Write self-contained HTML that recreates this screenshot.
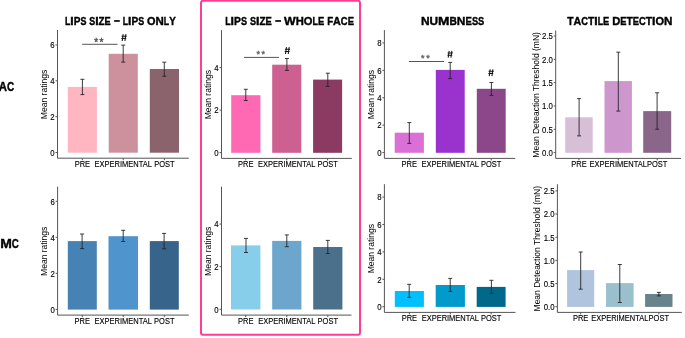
<!DOCTYPE html>
<html><head><meta charset="utf-8"><style>
html,body{margin:0;padding:0;background:#fff;}
body{width:685px;height:338px;overflow:hidden;}
svg{display:block;will-change:transform;}
text{font-family:"Liberation Sans", sans-serif;fill:#1a1a1a;}
.tk{font-size:7.8px;fill:#000;stroke:#000;stroke-width:0.12px;}
.xl{font-size:7.5px;fill:#000;stroke:#000;stroke-width:0.12px;}
.yt{font-size:9.5px;fill:#000;}
.ti{font-weight:bold;fill:#000;stroke:#000;stroke-width:0.4px;}
.st{font-size:10px;fill:#666;letter-spacing:1.2px;stroke-width:0.4px;}
.hs{font-size:9.5px;fill:#111;font-weight:bold;stroke:#111;stroke-width:0.3px;}
</style></head><body>
<svg width="685" height="338" viewBox="0 0 685 338">
<rect x="201" y="0.8" width="159" height="334" rx="2" fill="none" stroke="#FF3D98" stroke-width="2"/>
<rect x="67.8" y="86.9" width="29.10" height="65.80" fill="#FFB6C1"/>
<rect x="108.7" y="53.8" width="29.10" height="98.90" fill="#CD919E"/>
<rect x="149.8" y="69" width="29.20" height="83.70" fill="#8B636C"/>
<path d="M82.4 79.3V94.6M80.4 79.3H84.4M80.4 94.6H84.4" stroke="#262626" stroke-width="0.9" fill="none"/>
<path d="M123.2 45.1V62.1M121.2 45.1H125.2M121.2 62.1H125.2" stroke="#262626" stroke-width="0.9" fill="none"/>
<path d="M164.3 62.2V76.2M162.3 62.2H166.3M162.3 76.2H166.3" stroke="#262626" stroke-width="0.9" fill="none"/>
<path d="M57.5 30V158.2H188.8" stroke="#555555" stroke-width="1" fill="none"/>
<path d="M55.5 152.50H57.5" stroke="#555555" stroke-width="1"/>
<text transform="translate(54.7 155.80) scale(1 1.12)" text-anchor="end" class="tk">0</text>
<path d="M55.5 116.66H57.5" stroke="#555555" stroke-width="1"/>
<text transform="translate(54.7 119.96) scale(1 1.12)" text-anchor="end" class="tk">2</text>
<path d="M55.5 80.82H57.5" stroke="#555555" stroke-width="1"/>
<text transform="translate(54.7 84.12) scale(1 1.12)" text-anchor="end" class="tk">4</text>
<path d="M55.5 44.98H57.5" stroke="#555555" stroke-width="1"/>
<text transform="translate(54.7 48.28) scale(1 1.12)" text-anchor="end" class="tk">6</text>
<path d="M82.35 158.2V160.2" stroke="#555555" stroke-width="1"/>
<text transform="translate(82.35 166.7) scale(1 1.12)" text-anchor="middle" class="xl">PRE</text>
<path d="M123.25 158.2V160.2" stroke="#555555" stroke-width="1"/>
<text transform="translate(123.25 166.7) scale(1 1.12)" text-anchor="middle" class="xl">EXPERIMENTAL</text>
<path d="M164.40 158.2V160.2" stroke="#555555" stroke-width="1"/>
<text transform="translate(164.40 166.7) scale(1 1.12)" text-anchor="middle" class="xl">POST</text>
<text transform="translate(47.3 94.5) rotate(-90) scale(0.9 1)" text-anchor="middle" class="yt" style="font-size:9.5px">Mean ratings</text>
<rect x="231.2" y="95.2" width="29.20" height="57.60" fill="#FF69B4"/>
<rect x="272.2" y="64.7" width="29.10" height="88.10" fill="#CD6090"/>
<rect x="313.1" y="79.6" width="29.00" height="73.20" fill="#8B3A62"/>
<path d="M245.8 89.3V100.5M243.8 89.3H247.8M243.8 100.5H247.8" stroke="#262626" stroke-width="0.9" fill="none"/>
<path d="M286.9 58.5V70.4M284.9 58.5H288.9M284.9 70.4H288.9" stroke="#262626" stroke-width="0.9" fill="none"/>
<path d="M327.8 73.2V86.4M325.8 73.2H329.8M325.8 86.4H329.8" stroke="#262626" stroke-width="0.9" fill="none"/>
<path d="M221.5 30.1V158.4H351.8" stroke="#555555" stroke-width="1" fill="none"/>
<path d="M219.5 152.60H221.5" stroke="#555555" stroke-width="1"/>
<text transform="translate(218.7 155.90) scale(1 1.12)" text-anchor="end" class="tk">0</text>
<path d="M219.5 110.10H221.5" stroke="#555555" stroke-width="1"/>
<text transform="translate(218.7 113.40) scale(1 1.12)" text-anchor="end" class="tk">2</text>
<path d="M219.5 67.60H221.5" stroke="#555555" stroke-width="1"/>
<text transform="translate(218.7 70.90) scale(1 1.12)" text-anchor="end" class="tk">4</text>
<path d="M245.80 158.4V160.4" stroke="#555555" stroke-width="1"/>
<text transform="translate(245.80 166.7) scale(1 1.12)" text-anchor="middle" class="xl">PRE</text>
<path d="M286.75 158.4V160.4" stroke="#555555" stroke-width="1"/>
<text transform="translate(286.75 166.7) scale(1 1.12)" text-anchor="middle" class="xl">EXPERIMENTAL</text>
<path d="M327.60 158.4V160.4" stroke="#555555" stroke-width="1"/>
<text transform="translate(327.60 166.7) scale(1 1.12)" text-anchor="middle" class="xl">POST</text>
<text transform="translate(210.8 94.7) rotate(-90) scale(0.9 1)" text-anchor="middle" class="yt" style="font-size:9.5px">Mean ratings</text>
<rect x="394.7" y="132.7" width="29.20" height="20.10" fill="#DA70D6"/>
<rect x="435.8" y="69.9" width="28.90" height="82.90" fill="#9A32CD"/>
<rect x="476.8" y="88.8" width="28.90" height="64.00" fill="#8B4789"/>
<path d="M409.3 122.6V143.4M407.3 122.6H411.3M407.3 143.4H411.3" stroke="#262626" stroke-width="0.9" fill="none"/>
<path d="M450.2 62.4V78.6M448.2 62.4H452.2M448.2 78.6H452.2" stroke="#262626" stroke-width="0.9" fill="none"/>
<path d="M491.4 82.5V95.4M489.4 82.5H493.4M489.4 95.4H493.4" stroke="#262626" stroke-width="0.9" fill="none"/>
<path d="M384.4 30.1V158.4H515.2" stroke="#555555" stroke-width="1" fill="none"/>
<path d="M382.4 152.60H384.4" stroke="#555555" stroke-width="1"/>
<text transform="translate(381.59999999999997 155.90) scale(1 1.12)" text-anchor="end" class="tk">0</text>
<path d="M382.4 125.18H384.4" stroke="#555555" stroke-width="1"/>
<text transform="translate(381.59999999999997 128.48) scale(1 1.12)" text-anchor="end" class="tk">2</text>
<path d="M382.4 97.76H384.4" stroke="#555555" stroke-width="1"/>
<text transform="translate(381.59999999999997 101.06) scale(1 1.12)" text-anchor="end" class="tk">4</text>
<path d="M382.4 70.34H384.4" stroke="#555555" stroke-width="1"/>
<text transform="translate(381.59999999999997 73.64) scale(1 1.12)" text-anchor="end" class="tk">6</text>
<path d="M382.4 42.92H384.4" stroke="#555555" stroke-width="1"/>
<text transform="translate(381.59999999999997 46.22) scale(1 1.12)" text-anchor="end" class="tk">8</text>
<path d="M409.30 158.4V160.4" stroke="#555555" stroke-width="1"/>
<text transform="translate(409.30 166.7) scale(1 1.12)" text-anchor="middle" class="xl">PRE</text>
<path d="M450.25 158.4V160.4" stroke="#555555" stroke-width="1"/>
<text transform="translate(450.25 166.7) scale(1 1.12)" text-anchor="middle" class="xl">EXPERIMENTAL</text>
<path d="M491.25 158.4V160.4" stroke="#555555" stroke-width="1"/>
<text transform="translate(491.25 166.7) scale(1 1.12)" text-anchor="middle" class="xl">POST</text>
<text transform="translate(374 94.7) rotate(-90) scale(0.9 1)" text-anchor="middle" class="yt" style="font-size:9.5px">Mean ratings</text>
<rect x="565.2" y="117.3" width="27.50" height="35.50" fill="#D8BFD8"/>
<rect x="604.5" y="81.1" width="27.40" height="71.70" fill="#CD96CD"/>
<rect x="643.2" y="111.1" width="28.00" height="41.70" fill="#8B668B"/>
<path d="M579.1 98.6V135.9M577.1 98.6H581.1M577.1 135.9H581.1" stroke="#262626" stroke-width="0.9" fill="none"/>
<path d="M618.3 52.2V111.1M616.3 52.2H620.3M616.3 111.1H620.3" stroke="#262626" stroke-width="0.9" fill="none"/>
<path d="M657.1 92.8V129.2M655.1 92.8H659.1M655.1 129.2H659.1" stroke="#262626" stroke-width="0.9" fill="none"/>
<path d="M555.7 30.5V158.4H681" stroke="#555555" stroke-width="1" fill="none"/>
<path d="M553.7 152.60H555.7" stroke="#555555" stroke-width="1"/>
<text transform="translate(552.9000000000001 155.90) scale(1 1.12)" text-anchor="end" class="tk">0.0</text>
<path d="M553.7 129.28H555.7" stroke="#555555" stroke-width="1"/>
<text transform="translate(552.9000000000001 132.58) scale(1 1.12)" text-anchor="end" class="tk">0.5</text>
<path d="M553.7 105.96H555.7" stroke="#555555" stroke-width="1"/>
<text transform="translate(552.9000000000001 109.26) scale(1 1.12)" text-anchor="end" class="tk">1.0</text>
<path d="M553.7 82.64H555.7" stroke="#555555" stroke-width="1"/>
<text transform="translate(552.9000000000001 85.94) scale(1 1.12)" text-anchor="end" class="tk">1.5</text>
<path d="M553.7 59.32H555.7" stroke="#555555" stroke-width="1"/>
<text transform="translate(552.9000000000001 62.62) scale(1 1.12)" text-anchor="end" class="tk">2.0</text>
<path d="M553.7 36.00H555.7" stroke="#555555" stroke-width="1"/>
<text transform="translate(552.9000000000001 39.30) scale(1 1.12)" text-anchor="end" class="tk">2.5</text>
<path d="M578.95 158.4V160.4" stroke="#555555" stroke-width="1"/>
<text transform="translate(578.95 166.7) scale(1 1.12)" text-anchor="middle" class="xl">PRE</text>
<path d="M618.20 158.4V160.4" stroke="#555555" stroke-width="1"/>
<text transform="translate(618.20 166.7) scale(1 1.12)" text-anchor="middle" class="xl">EXPERIMENTAL</text>
<path d="M657.20 158.4V160.4" stroke="#555555" stroke-width="1"/>
<text transform="translate(657.20 166.7) scale(1 1.12)" text-anchor="middle" class="xl">POST</text>
<text transform="translate(539 94.9) rotate(-90) scale(1 1)" text-anchor="middle" class="yt" style="font-size:8.5px">Mean Deteaction Threshold (mN)</text>
<rect x="67.8" y="241.1" width="29.00" height="68.50" fill="#4682B4"/>
<rect x="108.5" y="236.2" width="29.50" height="73.40" fill="#4F94CD"/>
<rect x="149.8" y="241.1" width="29.00" height="68.50" fill="#36648B"/>
<path d="M82.1 234V248.6M80.1 234H84.1M80.1 248.6H84.1" stroke="#262626" stroke-width="0.9" fill="none"/>
<path d="M123.2 230.3V241.5M121.2 230.3H125.2M121.2 241.5H125.2" stroke="#262626" stroke-width="0.9" fill="none"/>
<path d="M164.1 233.4V248.8M162.1 233.4H166.1M162.1 248.8H166.1" stroke="#262626" stroke-width="0.9" fill="none"/>
<path d="M57.6 186.6V315.1H188.8" stroke="#555555" stroke-width="1" fill="none"/>
<path d="M55.6 309.40H57.6" stroke="#555555" stroke-width="1"/>
<text transform="translate(54.800000000000004 312.70) scale(1 1.12)" text-anchor="end" class="tk">0</text>
<path d="M55.6 273.36H57.6" stroke="#555555" stroke-width="1"/>
<text transform="translate(54.800000000000004 276.66) scale(1 1.12)" text-anchor="end" class="tk">2</text>
<path d="M55.6 237.32H57.6" stroke="#555555" stroke-width="1"/>
<text transform="translate(54.800000000000004 240.62) scale(1 1.12)" text-anchor="end" class="tk">4</text>
<path d="M55.6 201.28H57.6" stroke="#555555" stroke-width="1"/>
<text transform="translate(54.800000000000004 204.58) scale(1 1.12)" text-anchor="end" class="tk">6</text>
<path d="M82.30 315.1V317.1" stroke="#555555" stroke-width="1"/>
<text transform="translate(82.30 323.7) scale(1 1.12)" text-anchor="middle" class="xl">PRE</text>
<path d="M123.25 315.1V317.1" stroke="#555555" stroke-width="1"/>
<text transform="translate(123.25 323.7) scale(1 1.12)" text-anchor="middle" class="xl">EXPERIMENTAL</text>
<path d="M164.30 315.1V317.1" stroke="#555555" stroke-width="1"/>
<text transform="translate(164.30 323.7) scale(1 1.12)" text-anchor="middle" class="xl">POST</text>
<text transform="translate(47.3 251.3) rotate(-90) scale(0.9 1)" text-anchor="middle" class="yt" style="font-size:9.5px">Mean ratings</text>
<rect x="231" y="245.4" width="29.40" height="64.10" fill="#87CEEB"/>
<rect x="272.2" y="240.9" width="29.20" height="68.60" fill="#6CA6CD"/>
<rect x="313.2" y="247" width="29.20" height="62.50" fill="#4A708B"/>
<path d="M246 238.4V252.5M244 238.4H248M244 252.5H248" stroke="#262626" stroke-width="0.9" fill="none"/>
<path d="M286.8 234.9V246.7M284.8 234.9H288.8M284.8 246.7H288.8" stroke="#262626" stroke-width="0.9" fill="none"/>
<path d="M327.8 240.4V253.5M325.8 240.4H329.8M325.8 253.5H329.8" stroke="#262626" stroke-width="0.9" fill="none"/>
<path d="M221.5 186.6V315.1H351.5" stroke="#555555" stroke-width="1" fill="none"/>
<path d="M219.5 309.30H221.5" stroke="#555555" stroke-width="1"/>
<text transform="translate(218.7 312.60) scale(1 1.12)" text-anchor="end" class="tk">0</text>
<path d="M219.5 266.70H221.5" stroke="#555555" stroke-width="1"/>
<text transform="translate(218.7 270.00) scale(1 1.12)" text-anchor="end" class="tk">2</text>
<path d="M219.5 224.10H221.5" stroke="#555555" stroke-width="1"/>
<text transform="translate(218.7 227.40) scale(1 1.12)" text-anchor="end" class="tk">4</text>
<path d="M245.70 315.1V317.1" stroke="#555555" stroke-width="1"/>
<text transform="translate(245.70 323.7) scale(1 1.12)" text-anchor="middle" class="xl">PRE</text>
<path d="M286.80 315.1V317.1" stroke="#555555" stroke-width="1"/>
<text transform="translate(286.80 323.7) scale(1 1.12)" text-anchor="middle" class="xl">EXPERIMENTAL</text>
<path d="M327.80 315.1V317.1" stroke="#555555" stroke-width="1"/>
<text transform="translate(327.80 323.7) scale(1 1.12)" text-anchor="middle" class="xl">POST</text>
<text transform="translate(210.8 251.3) rotate(-90) scale(0.9 1)" text-anchor="middle" class="yt" style="font-size:9.5px">Mean ratings</text>
<rect x="394.8" y="291" width="29.10" height="15.90" fill="#00BFFF"/>
<rect x="435.7" y="285" width="29.20" height="21.90" fill="#009ACD"/>
<rect x="476.7" y="286.9" width="28.90" height="20.00" fill="#00688B"/>
<path d="M409.2 284.3V297.3M407.2 284.3H411.2M407.2 297.3H411.2" stroke="#262626" stroke-width="0.9" fill="none"/>
<path d="M450.2 278.4V291.4M448.2 278.4H452.2M448.2 291.4H452.2" stroke="#262626" stroke-width="0.9" fill="none"/>
<path d="M491.4 280.3V293.3M489.4 280.3H493.4M489.4 293.3H493.4" stroke="#262626" stroke-width="0.9" fill="none"/>
<path d="M384.4 184.2V312.4H515.5" stroke="#555555" stroke-width="1" fill="none"/>
<path d="M382.4 306.70H384.4" stroke="#555555" stroke-width="1"/>
<text transform="translate(381.59999999999997 310.00) scale(1 1.12)" text-anchor="end" class="tk">0</text>
<path d="M382.4 279.30H384.4" stroke="#555555" stroke-width="1"/>
<text transform="translate(381.59999999999997 282.60) scale(1 1.12)" text-anchor="end" class="tk">2</text>
<path d="M382.4 251.90H384.4" stroke="#555555" stroke-width="1"/>
<text transform="translate(381.59999999999997 255.20) scale(1 1.12)" text-anchor="end" class="tk">4</text>
<path d="M382.4 224.50H384.4" stroke="#555555" stroke-width="1"/>
<text transform="translate(381.59999999999997 227.80) scale(1 1.12)" text-anchor="end" class="tk">6</text>
<path d="M382.4 197.10H384.4" stroke="#555555" stroke-width="1"/>
<text transform="translate(381.59999999999997 200.40) scale(1 1.12)" text-anchor="end" class="tk">8</text>
<path d="M409.35 312.4V314.4" stroke="#555555" stroke-width="1"/>
<text transform="translate(409.35 321.2) scale(1 1.12)" text-anchor="middle" class="xl">PRE</text>
<path d="M450.30 312.4V314.4" stroke="#555555" stroke-width="1"/>
<text transform="translate(450.30 321.2) scale(1 1.12)" text-anchor="middle" class="xl">EXPERIMENTAL</text>
<path d="M491.15 312.4V314.4" stroke="#555555" stroke-width="1"/>
<text transform="translate(491.15 321.2) scale(1 1.12)" text-anchor="middle" class="xl">POST</text>
<text transform="translate(374 248.7) rotate(-90) scale(0.9 1)" text-anchor="middle" class="yt" style="font-size:9.5px">Mean ratings</text>
<rect x="567.1" y="270.1" width="27.10" height="36.80" fill="#B0C4DE"/>
<rect x="606" y="283.1" width="27.60" height="23.80" fill="#9AC0CD"/>
<rect x="645.1" y="294" width="27.40" height="12.90" fill="#68838B"/>
<path d="M580.7 252V289.2M578.7 252H582.7M578.7 289.2H582.7" stroke="#262626" stroke-width="0.9" fill="none"/>
<path d="M619.8 264.5V302.5M617.8 264.5H621.8M617.8 302.5H621.8" stroke="#262626" stroke-width="0.9" fill="none"/>
<path d="M658.9 292.4V295.9M656.9 292.4H660.9M656.9 295.9H660.9" stroke="#262626" stroke-width="0.9" fill="none"/>
<path d="M557.4 184.2V312.4H681.8" stroke="#555555" stroke-width="1" fill="none"/>
<path d="M555.4 306.70H557.4" stroke="#555555" stroke-width="1"/>
<text transform="translate(554.6 310.00) scale(1 1.12)" text-anchor="end" class="tk">0.0</text>
<path d="M555.4 283.54H557.4" stroke="#555555" stroke-width="1"/>
<text transform="translate(554.6 286.84) scale(1 1.12)" text-anchor="end" class="tk">0.5</text>
<path d="M555.4 260.38H557.4" stroke="#555555" stroke-width="1"/>
<text transform="translate(554.6 263.68) scale(1 1.12)" text-anchor="end" class="tk">1.0</text>
<path d="M555.4 237.22H557.4" stroke="#555555" stroke-width="1"/>
<text transform="translate(554.6 240.52) scale(1 1.12)" text-anchor="end" class="tk">1.5</text>
<path d="M555.4 214.06H557.4" stroke="#555555" stroke-width="1"/>
<text transform="translate(554.6 217.36) scale(1 1.12)" text-anchor="end" class="tk">2.0</text>
<path d="M555.4 190.90H557.4" stroke="#555555" stroke-width="1"/>
<text transform="translate(554.6 194.20) scale(1 1.12)" text-anchor="end" class="tk">2.5</text>
<path d="M580.65 312.4V314.4" stroke="#555555" stroke-width="1"/>
<text transform="translate(580.65 321.3) scale(1 1.12)" text-anchor="middle" class="xl">PRE</text>
<path d="M619.80 312.4V314.4" stroke="#555555" stroke-width="1"/>
<text transform="translate(619.80 321.3) scale(1 1.12)" text-anchor="middle" class="xl">EXPERIMENTAL</text>
<path d="M658.80 312.4V314.4" stroke="#555555" stroke-width="1"/>
<text transform="translate(658.80 321.3) scale(1 1.12)" text-anchor="middle" class="xl">POST</text>
<text transform="translate(540.4 248.7) rotate(-90) scale(1 1)" text-anchor="middle" class="yt" style="font-size:8.5px">Mean Deteaction Threshold (mN)</text>
<path d="M82.2 44.3H117.6" stroke="#555" stroke-width="1"/>
<text x="99.4" y="46" text-anchor="middle" class="st" style="font-size:10px;letter-spacing:1.2px;fill:#555;stroke:#555">**</text>
<path d="M123.20 34.2L122.20 41.0M125.90 34.2L124.90 41.0M121.60 36.24H126.80M121.40 38.48H126.20" stroke="#111" stroke-width="1.05" fill="none"/>
<path d="M243.9 57.4H279" stroke="#555" stroke-width="1"/>
<text x="261.6" y="57.1" text-anchor="middle" class="st" style="font-size:9px;letter-spacing:1.6px;fill:#666;stroke:#666">**</text>
<path d="M286.50 47.2L285.50 54.0M289.20 47.2L288.20 54.0M284.90 49.24H290.10M284.70 51.48H289.50" stroke="#111" stroke-width="1.05" fill="none"/>
<path d="M408.9 61.5H444" stroke="#555" stroke-width="1"/>
<text x="426.2" y="61.3" text-anchor="middle" class="st" style="font-size:9px;letter-spacing:1.6px;fill:#666;stroke:#666">**</text>
<path d="M449.20 50.9L448.20 57.699999999999996M451.90 50.9L450.90 57.699999999999996M447.60 52.94H452.80M447.40 55.18H452.20" stroke="#111" stroke-width="1.05" fill="none"/>
<path d="M490.20 69.3L489.20 76.1M492.90 69.3L491.90 76.1M488.60 71.34H493.80M488.40 73.58H493.20" stroke="#111" stroke-width="1.05" fill="none"/>
<text x="65.00" y="24.7" textLength="5.34" lengthAdjust="spacingAndGlyphs" class="ti" style="font-size:11.6px">L</text>
<text x="70.34" y="24.7" textLength="3.37" lengthAdjust="spacingAndGlyphs" class="ti" style="font-size:11.6px">I</text>
<text x="73.71" y="24.7" textLength="6.71" lengthAdjust="spacingAndGlyphs" class="ti" style="font-size:11.6px">P</text>
<text x="80.42" y="24.7" textLength="5.97" lengthAdjust="spacingAndGlyphs" class="ti" style="font-size:11.6px">S</text>
<text x="89.24" y="24.7" textLength="5.97" lengthAdjust="spacingAndGlyphs" class="ti" style="font-size:11.6px">S</text>
<text x="95.21" y="24.7" textLength="3.37" lengthAdjust="spacingAndGlyphs" class="ti" style="font-size:11.6px">I</text>
<text x="98.58" y="24.7" textLength="6.03" lengthAdjust="spacingAndGlyphs" class="ti" style="font-size:11.6px">Z</text>
<text x="104.61" y="24.7" textLength="6.16" lengthAdjust="spacingAndGlyphs" class="ti" style="font-size:11.6px">E</text>
<rect x="114.12" y="20.15" width="5.66" height="1.65" fill="#000"/>
<text x="122.76" y="24.7" textLength="5.34" lengthAdjust="spacingAndGlyphs" class="ti" style="font-size:11.6px">L</text>
<text x="128.10" y="24.7" textLength="3.37" lengthAdjust="spacingAndGlyphs" class="ti" style="font-size:11.6px">I</text>
<text x="131.47" y="24.7" textLength="6.71" lengthAdjust="spacingAndGlyphs" class="ti" style="font-size:11.6px">P</text>
<text x="138.18" y="24.7" textLength="5.97" lengthAdjust="spacingAndGlyphs" class="ti" style="font-size:11.6px">S</text>
<text x="147.00" y="24.7" textLength="8.53" lengthAdjust="spacingAndGlyphs" class="ti" style="font-size:11.6px">O</text>
<text x="155.54" y="24.7" textLength="8.32" lengthAdjust="spacingAndGlyphs" class="ti" style="font-size:11.6px">N</text>
<text x="163.85" y="24.7" textLength="5.34" lengthAdjust="spacingAndGlyphs" class="ti" style="font-size:11.6px">L</text>
<text x="169.19" y="24.7" textLength="6.56" lengthAdjust="spacingAndGlyphs" class="ti" style="font-size:11.6px">Y</text>
<text x="225.20" y="24.7" textLength="5.44" lengthAdjust="spacingAndGlyphs" class="ti" style="font-size:11.6px">L</text>
<text x="230.64" y="24.7" textLength="3.43" lengthAdjust="spacingAndGlyphs" class="ti" style="font-size:11.6px">I</text>
<text x="234.07" y="24.7" textLength="6.84" lengthAdjust="spacingAndGlyphs" class="ti" style="font-size:11.6px">P</text>
<text x="240.91" y="24.7" textLength="6.08" lengthAdjust="spacingAndGlyphs" class="ti" style="font-size:11.6px">S</text>
<text x="249.90" y="24.7" textLength="6.08" lengthAdjust="spacingAndGlyphs" class="ti" style="font-size:11.6px">S</text>
<text x="255.99" y="24.7" textLength="3.43" lengthAdjust="spacingAndGlyphs" class="ti" style="font-size:11.6px">I</text>
<text x="259.42" y="24.7" textLength="6.15" lengthAdjust="spacingAndGlyphs" class="ti" style="font-size:11.6px">Z</text>
<text x="265.57" y="24.7" textLength="6.28" lengthAdjust="spacingAndGlyphs" class="ti" style="font-size:11.6px">E</text>
<rect x="275.25" y="20.15" width="5.76" height="1.65" fill="#000"/>
<text x="284.06" y="24.7" textLength="11.65" lengthAdjust="spacingAndGlyphs" class="ti" style="font-size:11.6px">W</text>
<text x="295.71" y="24.7" textLength="8.11" lengthAdjust="spacingAndGlyphs" class="ti" style="font-size:11.6px">H</text>
<text x="303.83" y="24.7" textLength="8.69" lengthAdjust="spacingAndGlyphs" class="ti" style="font-size:11.6px">O</text>
<text x="312.52" y="24.7" textLength="5.44" lengthAdjust="spacingAndGlyphs" class="ti" style="font-size:11.6px">L</text>
<text x="317.96" y="24.7" textLength="6.28" lengthAdjust="spacingAndGlyphs" class="ti" style="font-size:11.6px">E</text>
<text x="327.14" y="24.7" textLength="5.90" lengthAdjust="spacingAndGlyphs" class="ti" style="font-size:11.6px">F</text>
<text x="333.04" y="24.7" textLength="7.79" lengthAdjust="spacingAndGlyphs" class="ti" style="font-size:11.6px">A</text>
<text x="340.84" y="24.7" textLength="6.80" lengthAdjust="spacingAndGlyphs" class="ti" style="font-size:11.6px">C</text>
<text x="347.64" y="24.7" textLength="6.28" lengthAdjust="spacingAndGlyphs" class="ti" style="font-size:11.6px">E</text>
<text x="420.90" y="24.7" textLength="8.63" lengthAdjust="spacingAndGlyphs" class="ti" style="font-size:11.6px">N</text>
<text x="429.53" y="24.7" textLength="8.55" lengthAdjust="spacingAndGlyphs" class="ti" style="font-size:11.6px">U</text>
<text x="438.09" y="24.7" textLength="11.45" lengthAdjust="spacingAndGlyphs" class="ti" style="font-size:11.6px">M</text>
<text x="449.54" y="24.7" textLength="7.35" lengthAdjust="spacingAndGlyphs" class="ti" style="font-size:11.6px">B</text>
<text x="456.89" y="24.7" textLength="8.63" lengthAdjust="spacingAndGlyphs" class="ti" style="font-size:11.6px">N</text>
<text x="465.52" y="24.7" textLength="6.39" lengthAdjust="spacingAndGlyphs" class="ti" style="font-size:11.6px">E</text>
<text x="471.91" y="24.7" textLength="6.20" lengthAdjust="spacingAndGlyphs" class="ti" style="font-size:11.6px">S</text>
<text x="478.11" y="24.7" textLength="6.20" lengthAdjust="spacingAndGlyphs" class="ti" style="font-size:11.6px">S</text>
<text x="567.20" y="25.3" textLength="6.31" lengthAdjust="spacingAndGlyphs" class="ti" style="font-size:11.6px">T</text>
<text x="573.51" y="25.3" textLength="7.73" lengthAdjust="spacingAndGlyphs" class="ti" style="font-size:11.6px">A</text>
<text x="581.24" y="25.3" textLength="6.74" lengthAdjust="spacingAndGlyphs" class="ti" style="font-size:11.6px">C</text>
<text x="587.98" y="25.3" textLength="6.31" lengthAdjust="spacingAndGlyphs" class="ti" style="font-size:11.6px">T</text>
<text x="594.29" y="25.3" textLength="3.40" lengthAdjust="spacingAndGlyphs" class="ti" style="font-size:11.6px">I</text>
<text x="597.70" y="25.3" textLength="5.39" lengthAdjust="spacingAndGlyphs" class="ti" style="font-size:11.6px">L</text>
<text x="603.09" y="25.3" textLength="6.22" lengthAdjust="spacingAndGlyphs" class="ti" style="font-size:11.6px">E</text>
<text x="612.19" y="25.3" textLength="8.03" lengthAdjust="spacingAndGlyphs" class="ti" style="font-size:11.6px">D</text>
<text x="620.23" y="25.3" textLength="6.22" lengthAdjust="spacingAndGlyphs" class="ti" style="font-size:11.6px">E</text>
<text x="626.45" y="25.3" textLength="6.31" lengthAdjust="spacingAndGlyphs" class="ti" style="font-size:11.6px">T</text>
<text x="632.76" y="25.3" textLength="6.22" lengthAdjust="spacingAndGlyphs" class="ti" style="font-size:11.6px">E</text>
<text x="638.98" y="25.3" textLength="6.74" lengthAdjust="spacingAndGlyphs" class="ti" style="font-size:11.6px">C</text>
<text x="645.73" y="25.3" textLength="6.31" lengthAdjust="spacingAndGlyphs" class="ti" style="font-size:11.6px">T</text>
<text x="652.04" y="25.3" textLength="3.40" lengthAdjust="spacingAndGlyphs" class="ti" style="font-size:11.6px">I</text>
<text x="655.44" y="25.3" textLength="8.62" lengthAdjust="spacingAndGlyphs" class="ti" style="font-size:11.6px">O</text>
<text x="664.06" y="25.3" textLength="8.40" lengthAdjust="spacingAndGlyphs" class="ti" style="font-size:11.6px">N</text>
<text x="-1.20" y="90.7" textLength="8.24" lengthAdjust="spacingAndGlyphs" class="ti" style="font-size:12.4px">A</text>
<text x="7.04" y="90.7" textLength="7.19" lengthAdjust="spacingAndGlyphs" class="ti" style="font-size:12.4px">C</text>
<text x="0.20" y="247.7" textLength="11.62" lengthAdjust="spacingAndGlyphs" class="ti" style="font-size:12.4px">M</text>
<text x="11.82" y="247.7" textLength="7.04" lengthAdjust="spacingAndGlyphs" class="ti" style="font-size:12.4px">C</text>
</svg>
</body></html>
